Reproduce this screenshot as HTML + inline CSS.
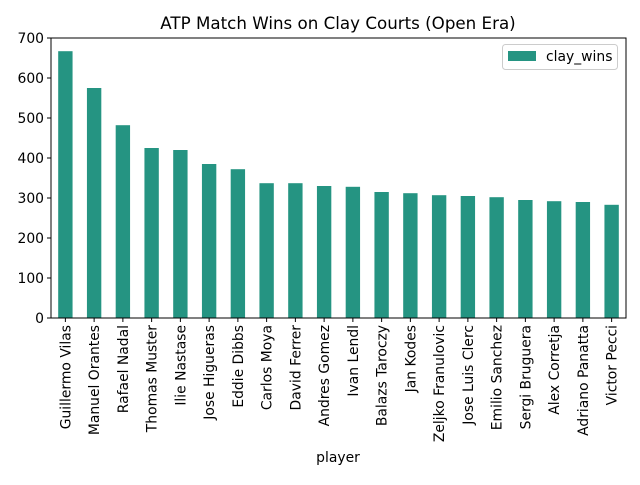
<!DOCTYPE html>
<html><head><meta charset="utf-8"><style>
body{margin:0;background:#fff}
svg text{font-family:"DejaVu Sans","Liberation Sans",sans-serif;fill:#000}
</style></head><body>
<svg id="chart" width="640" height="480" xmlns="http://www.w3.org/2000/svg">
<rect width="640" height="480" fill="#fff"/>
<text x="338" y="29" font-size="16.7" text-anchor="middle">ATP Match Wins on Clay Courts (Open Era)</text>
<g id="bars"></g>
<g id="yticks"></g>
<g id="xticks"></g>
<rect x="51" y="38" width="575" height="280" fill="none" stroke="#000" stroke-width="1"/>
<text x="338" y="462" font-size="13.9" text-anchor="middle">player</text>
<g>
<rect x="502.5" y="44.5" width="115" height="25" rx="3" fill="#fff" stroke="#ccc"/>
<rect x="508" y="51" width="28" height="10" fill="#259482"/>
<text x="546" y="61" font-size="13.9">clay_wins</text>
</g>
</svg>
<script>
const players=["Guillermo Vilas","Manuel Orantes","Rafael Nadal","Thomas Muster","Ilie Nastase","Jose Higueras","Eddie Dibbs","Carlos Moya","David Ferrer","Andres Gomez","Ivan Lendl","Balazs Taroczy","Jan Kodes","Zeljko Franulovic","Jose Luis Clerc","Emilio Sanchez","Sergi Bruguera","Alex Corretja","Adriano Panatta","Victor Pecci"];
const clayWins=[667,575,482,425,420,385,372,337,337,330,328,315,312,307,305,302,295,292,290,283];
const yTicks=[0,100,200,300,400,500,600,700];
const NS="http://www.w3.org/2000/svg";
const L=51,R=626,T=38,B=318,YMAX=700;
const step=(R-L)/players.length;
const xC=i=>L+step*(i+0.5);
const y=v=>B-(v/YMAX)*(B-T);
function mk(t,a){const e=document.createElementNS(NS,t);for(const k in a)e.setAttribute(k,a[k]);return e;}
const gb=document.getElementById('bars'),gy=document.getElementById('yticks'),gx=document.getElementById('xticks');
clayWins.forEach((v,i)=>{
 const w=step*0.5;
 const r=mk('rect',{x:xC(i)-w/2,y:y(v),width:w,height:B-y(v),fill:'#259482'});
 
 
 gb.appendChild(r);
 const tk=mk('line',{x1:xC(i),x2:xC(i),y1:B,y2:B+4,stroke:'#000'});
 
 
 gx.appendChild(tk);
 const t=mk('text',{x:0,y:0,'font-size':13.9,'text-anchor':'end',transform:`translate(${xC(i)+5},${B+7}) rotate(-90)`});
 t.textContent=players[i];
 
 
 gx.appendChild(t);
});
yTicks.forEach(v=>{
 const tk=mk('line',{x1:L-4,x2:L,y1:y(v),y2:y(v),stroke:'#000'});
 
 
 gy.appendChild(tk);
 const t=mk('text',{x:L-7,y:y(v)+5,'font-size':13.9,'text-anchor':'end'});
 t.textContent=v;
 
 
 gy.appendChild(t);
});
</script>
</body></html>
